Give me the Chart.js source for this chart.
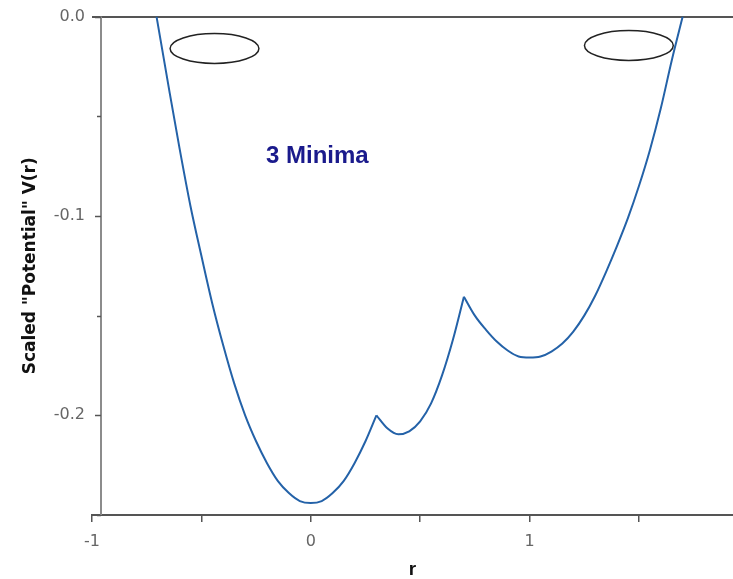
<!DOCTYPE html>
<html>
<head>
<meta charset="utf-8">
<script src="https://cdn.jsdelivr.net/npm/chart.js@4"></script>
<style>
  html, body { margin: 0; padding: 0; background: #fff; }
  canvas { display: block; }
</style>
</head>
<body>
<canvas id="chartPotential" width="733" height="579"></canvas>
<script>
// V(r): 3 pocos, cuspides em r=0.3 e r=0.7
const rValues = [
  -0.705, -0.65, -0.60, -0.55, -0.50, -0.45, -0.40, -0.35, -0.30, -0.25,
  -0.20, -0.15, -0.10, -0.05, 0.00, 0.05, 0.10, 0.15, 0.20, 0.25,
  0.30, 0.35, 0.40, 0.45, 0.50, 0.55, 0.60, 0.65, 0.70,
  0.75, 0.80, 0.85, 0.90, 0.95, 1.00, 1.05, 1.10, 1.15, 1.20,
  1.25, 1.30, 1.35, 1.40, 1.45, 1.50, 1.55, 1.60, 1.65, 1.70,
];
const vValues = [
  0.000, -0.035, -0.066, -0.095, -0.120, -0.144, -0.165, -0.184, -0.200, -0.213,
  -0.224, -0.233, -0.239, -0.243, -0.244, -0.243, -0.239, -0.233, -0.224, -0.213,
  -0.200, -0.2065, -0.2095, -0.208, -0.203, -0.194, -0.180, -0.162, -0.1405,
  -0.150, -0.157, -0.163, -0.1675, -0.1705, -0.171, -0.1705, -0.168, -0.164, -0.158,
  -0.150, -0.140, -0.128, -0.115, -0.101, -0.085, -0.067, -0.046, -0.022, 0.000,
];
// pontas (cuspides) onde a curva quebra entre um poco e outro
const cuspR = [0.30, 0.70];

const xTickValues = [-1, -0.5, 0, 0.5, 1, 1.5];
const xTickLabels = ['-1', '', '0', '', '1', ''];
const yTickValues = [0, -0.05, -0.1, -0.15, -0.2, -0.25];
const yTickLabels = ['0.0', '', '-0.1', '', '-0.2', ''];

// elipses (centro e tamanho em unidades de dado)
const ellipseR = [-0.44, 1.454];
const ellipseV = [-0.016, -0.0145];
const ellipseW = [0.406, 0.406];
const ellipseH = [0.015, 0.015];

const noteText = '3 Minima';
const noteR = 0.03;
const noteV = -0.07;
const yAxisAt = -0.96;

// um dataset por poco, assim as cuspides ficam pontudas
const bounds = [-Infinity, ...cuspR, Infinity];
const wells = bounds.slice(0, -1).map((lo, k) => rValues
  .map((r, i) => ({ x: r, y: vValues[i] }))
  .filter((p) => p.x >= lo && p.x <= bounds[k + 1]));

const overlayPlugin = {
  id: 'potentialOverlay',
  afterDatasetsDraw(chart) {
    const { ctx, chartArea, scales: { x, y } } = chart;
    ctx.save();
    // eixo vertical cinza deslocado e seus tracinhos
    const px = Math.round(x.getPixelForValue(yAxisAt));
    ctx.strokeStyle = '#8c8c8c';
    ctx.lineWidth = 2;
    ctx.beginPath();
    ctx.moveTo(px, chartArea.top);
    ctx.lineTo(px, chartArea.bottom);
    ctx.stroke();
    ctx.strokeStyle = '#555';
    ctx.lineWidth = 1.5;
    yTickValues.forEach((v, i) => {
      const py = Math.round(y.getPixelForValue(v)) + 0.5;
      const len = yTickLabels[i] ? 6 : 4;
      ctx.beginPath();
      ctx.moveTo(px - len, py);
      ctx.lineTo(px, py);
      ctx.stroke();
    });

    // elipses
    ctx.strokeStyle = '#222';
    ctx.lineWidth = 1.5;
    ellipseR.forEach((r, i) => {
      const cx = x.getPixelForValue(r);
      const cy = y.getPixelForValue(ellipseV[i]);
      const rx = Math.abs(x.getPixelForValue(r + ellipseW[i] / 2) - cx);
      const ry = Math.abs(y.getPixelForValue(ellipseV[i] + ellipseH[i] / 2) - cy);
      ctx.beginPath();
      ctx.ellipse(cx, cy, rx, ry, 0, 0, Math.PI * 2);
      ctx.stroke();
    });

    // texto
    ctx.fillStyle = '#1a1a8c';
    ctx.font = 'bold 24px Arial, "Liberation Sans", sans-serif';
    ctx.textAlign = 'center';
    ctx.textBaseline = 'middle';
    ctx.fillText(noteText, x.getPixelForValue(noteR), y.getPixelForValue(noteV));
    ctx.restore();
  },
};

new Chart(document.getElementById('chartPotential'), {
  type: 'line',
  data: {
    datasets: wells.map((pts) => ({
      data: pts,
      borderColor: '#2462a8',
      borderWidth: 2,
      pointRadius: 0,
      cubicInterpolationMode: 'monotone',
      fill: false,
    })),
  },
  options: {
    responsive: false,
    animation: false,
    devicePixelRatio: 1,
    layout: { padding: { top: 15, right: 0, bottom: 0, left: 0 } },
    plugins: { legend: { display: false }, tooltip: { enabled: false } },
    scales: {
      x: {
        type: 'linear',
        min: -1,
        max: 1.93,
        afterBuildTicks: (scale) => { scale.ticks = xTickValues.map((v) => ({ value: v })); },
        afterFit: (scale) => { scale.height = 64; },
        ticks: {
          autoSkip: false,
          maxRotation: 0,
          padding: 10,
          color: '#666',
          font: { family: '"DejaVu Sans", sans-serif', size: 16 },
          callback: (v, i) => xTickLabels[i],
        },
        grid: { drawOnChartArea: false, drawTicks: true, tickLength: 7, color: '#555', lineWidth: 1.5 },
        border: { display: true, color: '#555', width: 2 },
        title: {
          display: true,
          text: 'r',
          color: '#111',
          font: { family: 'Arial, "Liberation Sans", sans-serif', size: 19, weight: 'bold', lineHeight: 1 },
          padding: { top: 0, bottom: 0 },
        },
      },
      y: {
        type: 'linear',
        min: -0.25,
        max: 0,
        afterBuildTicks: (scale) => { scale.ticks = yTickValues.map((v) => ({ value: v })); },
        afterFit: (scale) => { scale.width = 92; },
        ticks: {
          autoSkip: false,
          padding: 7,
          color: '#666',
          font: { family: '"DejaVu Sans", sans-serif', size: 16 },
          callback: (v, i) => yTickLabels[i],
        },
        grid: {
          drawTicks: false,
          lineWidth: 2,
          color: (c) => (c.tick && c.tick.value === 0 ? '#555' : 'rgba(0,0,0,0)'),
        },
        border: { display: false },
        title: {
          display: true,
          text: 'Scaled "Potential" V(r)',
          color: '#111',
          font: { family: '"DejaVu Sans", sans-serif', size: 17, weight: 'bold' },
          padding: { top: 20, bottom: 0 },
        },
      },
    },
  },
  plugins: [overlayPlugin],
});
</script>
</body>
</html>
